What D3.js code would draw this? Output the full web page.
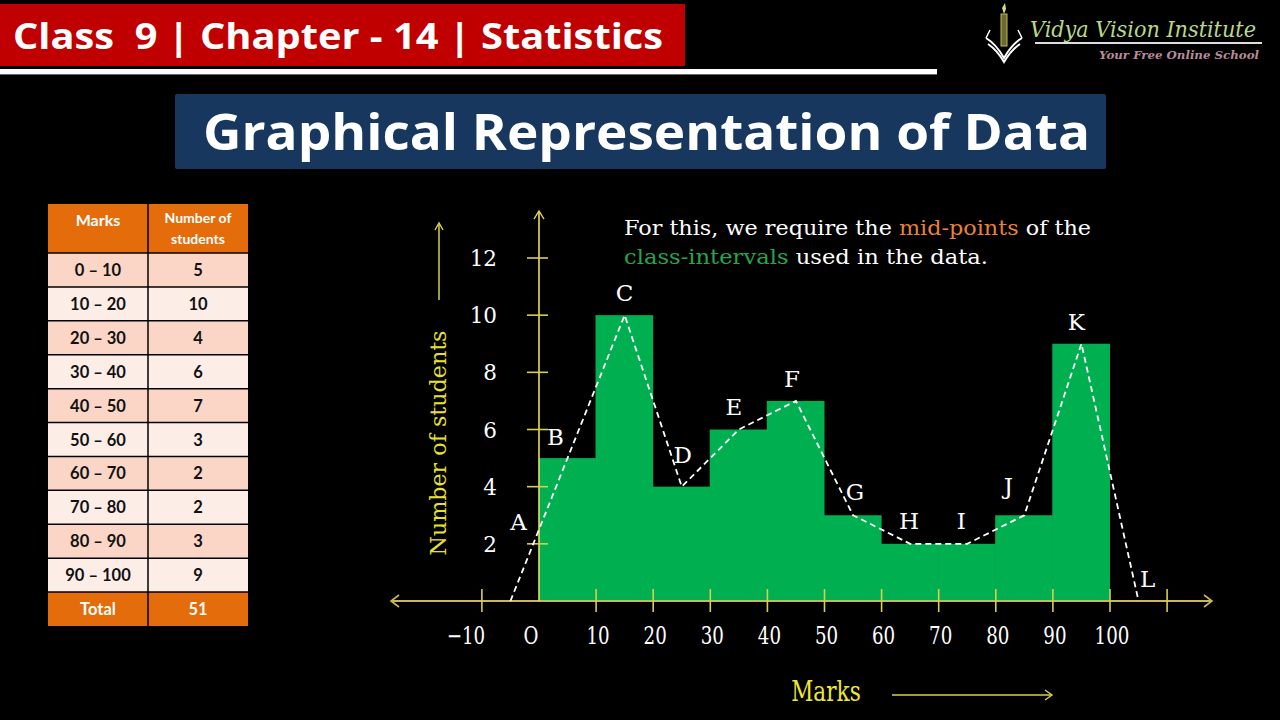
<!DOCTYPE html>
<html><head><meta charset="utf-8">
<script src="https://cdn.jsdelivr.net/npm/d3@7"></script>
<style>
html,body{margin:0;padding:0;background:#000;}
svg{display:block;}
</style></head>
<body>
<svg id="chart" width="1280" height="720"></svg>
<script>
// ---------------- data ----------------
const classLabels = ["0 – 10","10 – 20","20 – 30","30 – 40","40 – 50","50 – 60","60 – 70","70 – 80","80 – 90","90 – 100"];
const classLower = [0,10,20,30,40,50,60,70,80,90];
const classWidth = 10;
const counts = [5,10,4,6,7,3,2,2,3,9];
const totalLabel = "51";
const midpoints = [-5,5,15,25,35,45,55,65,75,85,95,105];
const polyValues = [0,5,10,4,6,7,3,2,2,3,9,0];
const pointNames = ["A","B","C","D","E","F","G","H","I","J","K","L"];
const yTicks = [2,4,6,8,10,12];
const xTicks = [-10,0,10,20,30,40,50,60,70,80,90,100,110];
const xTickLabels = ["−10","O","10","20","30","40","50","60","70","80","90","100"];

// ---------------- layout ----------------
const svg = d3.select("#chart");
svg.append("rect").attr("width",1280).attr("height",720).attr("fill","#000");

// header
svg.append("rect").attr("x",0).attr("y",4).attr("width",685).attr("height",62).attr("fill","#c00000");
svg.append("text").attr("x",13).attr("y",49)
  .attr("font-family","'Open Sans', sans-serif").attr("font-weight",700).attr("font-size",35)
  .attr("fill","#fff").attr("textLength",650).attr("lengthAdjust","spacingAndGlyphs")
  .attr("xml:space","preserve").style("white-space","pre")
  .text("Class  9 | Chapter - 14 | Statistics");
svg.append("rect").attr("x",0).attr("y",69).attr("width",937).attr("height",5).attr("fill","#fff");
svg.append("rect").attr("x",0).attr("y",74).attr("width",937).attr("height",1).attr("fill","#666");

// logo
const logo = svg.append("g");
logo.append("rect").attr("x",1001).attr("y",14).attr("width",6).attr("height",32).attr("fill","#6b6a2a").attr("stroke","#b8b860").attr("stroke-width",1);
logo.append("path").attr("d","M1004,14 L1002,8 L1005,3 L1006,9 Z").attr("fill","#d8d890");
logo.append("path").attr("d","M986,38 Q996,44 1004,58 Q1012,44 1022,38").attr("fill","none").attr("stroke","#fff").attr("stroke-width",2);
logo.append("path").attr("d","M988,44 Q997,50 1004,62 Q1011,50 1020,44").attr("fill","none").attr("stroke","#fff").attr("stroke-width",2);
logo.append("path").attr("d","M990,30 L986,38 M1018,30 L1022,38").attr("stroke","#fff").attr("stroke-width",1.5);
logo.append("text").attr("x",1030).attr("y",37)
  .attr("font-family","'DejaVu Serif', serif").attr("font-style","italic").attr("font-size",23)
  .attr("fill","#b9d88a").attr("textLength",226).attr("lengthAdjust","spacingAndGlyphs")
  .text("Vidya Vision Institute");
logo.append("rect").attr("x",1035).attr("y",42).attr("width",227).attr("height",2).attr("fill","#ddd");
logo.append("text").attr("x",1099).attr("y",59)
  .attr("font-family","'DejaVu Serif', serif").attr("font-style","italic").attr("font-weight",700).attr("font-size",11)
  .attr("fill","#b88a9a").attr("textLength",160).attr("lengthAdjust","spacingAndGlyphs")
  .text("Your Free Online School");

// title
svg.append("rect").attr("x",175).attr("y",94).attr("width",931).attr("height",75).attr("rx",2).attr("fill","#17375e");
svg.append("text").attr("x",203).attr("y",150)
  .attr("font-family","'Open Sans', sans-serif").attr("font-weight",700).attr("font-size",50)
  .attr("fill","#fff").attr("textLength",887).attr("lengthAdjust","spacingAndGlyphs")
  .text("Graphical Representation of Data");

// ---------------- table ----------------
const tbl = svg.append("g");
const tx0 = 48, tx1 = 148, tx2 = 248, ty0 = 204, headH = 49;
const rowY = d3.scaleBand().domain(d3.range(classLabels.length + 1)).range([ty0 + headH, 626]);
const tfont = "'Lato', 'Open Sans', sans-serif";
tbl.append("rect").attr("x",tx0).attr("y",ty0).attr("width",tx2-tx0).attr("height",headH).attr("fill","#e46c0a");
tbl.append("text").attr("x",(tx0+tx1)/2).attr("y",ty0+22).attr("text-anchor","middle")
  .attr("font-family",tfont).attr("font-weight",700).attr("font-size",16).attr("fill","#fff").text("Marks");
tbl.append("text").attr("x",(tx1+tx2)/2).attr("y",ty0+19).attr("text-anchor","middle")
  .attr("font-family",tfont).attr("font-weight",700).attr("font-size",14).attr("fill","#fff").text("Number of");
tbl.append("text").attr("x",(tx1+tx2)/2).attr("y",ty0+40).attr("text-anchor","middle")
  .attr("font-family",tfont).attr("font-weight",700).attr("font-size",14).attr("fill","#fff").text("students");
const rows = classLabels.map((c,i)=>({a:c,b:String(counts[i]),i}));
rows.push({a:"Total",b:totalLabel,i:classLabels.length,total:true});
const rg = tbl.selectAll("g.row").data(rows).enter().append("g");
rg.append("rect").attr("x",tx0).attr("y",d=>rowY(d.i)).attr("width",tx2-tx0).attr("height",rowY.bandwidth())
  .attr("fill",d=>d.total ? "#e46c0a" : (d.i%2===0 ? "#fbd6c6" : "#fdede7"));
rg.append("text").attr("x",(tx0+tx1)/2).attr("y",d=>rowY(d.i)+rowY.bandwidth()/2+6).attr("text-anchor","middle")
  .attr("font-family",tfont).attr("font-weight",700).attr("font-size",16.5)
  .attr("fill",d=>d.total?"#fff":"#111").text(d=>d.a);
rg.append("text").attr("x",(tx1+tx2)/2).attr("y",d=>rowY(d.i)+rowY.bandwidth()/2+6).attr("text-anchor","middle")
  .attr("font-family",tfont).attr("font-weight",700).attr("font-size",16.5)
  .attr("fill",d=>d.total?"#fff":"#111").text(d=>d.b);
// borders
tbl.selectAll("line.h").data(d3.range(1, rows.length)).enter().append("line")
  .attr("x1",tx0).attr("x2",tx2).attr("y1",d=>rowY(d)).attr("y2",d=>rowY(d)).attr("stroke","#000").attr("stroke-width",1.5);
tbl.append("line").attr("x1",tx0).attr("x2",tx2).attr("y1",ty0+headH).attr("y2",ty0+headH).attr("stroke","#000").attr("stroke-width",1.5);
tbl.append("line").attr("x1",tx1).attr("x2",tx1).attr("y1",ty0).attr("y2",626).attr("stroke","#000").attr("stroke-width",1.5);

// ---------------- chart ----------------
const x = d3.scaleLinear().domain([0,100]).range([539,1110]);
const y = d3.scaleLinear().domain([0,12]).range([601,258]);
const axisCol = "#d8cf4e";
const serif = "'DejaVu Serif', serif";

// bars (slightly overlapped to avoid seams)
svg.append("g").selectAll("rect").data(counts).enter().append("rect")
  .attr("x",(d,i)=>x(classLower[i]) - (i>0 ? 0.6 : 0))
  .attr("y",d=>y(d))
  .attr("width",(d,i)=>x(classLower[i]+classWidth)-x(classLower[i]) + (i>0 ? 0.6 : 0))
  .attr("height",d=>y(0)-y(d))
  .attr("fill","#00b050");

// x axis line with arrows
const y0 = y(0);
svg.append("line").attr("x1",391).attr("x2",1212).attr("y1",y0).attr("y2",y0).attr("stroke","#c9b85a").attr("stroke-width",2);
svg.append("path").attr("d",`M399,${y0-6} L391,${y0} L399,${y0+6}`).attr("fill","none").attr("stroke","#c9b85a").attr("stroke-width",1.6);
svg.append("path").attr("d",`M1204,${y0-6} L1212,${y0} L1204,${y0+6}`).attr("fill","none").attr("stroke","#c9b85a").attr("stroke-width",1.6);
svg.append("g").selectAll("line").data(xTicks.filter(v=>v!==0)).enter().append("line")
  .attr("x1",d=>x(d)).attr("x2",d=>x(d)).attr("y1",y0-12).attr("y2",y0+11)
  .attr("stroke",axisCol).attr("stroke-width",1.6);
const xlabX = (i)=> x(xTicks[i]) + (i===0 ? -16 : i===1 ? -8 : 2);
svg.append("g").selectAll("text").data(xTickLabels).enter().append("text")
  .attr("x",(d,i)=>xlabX(i))
  .attr("y",644).attr("text-anchor","middle")
  .attr("font-family",serif).attr("font-size",24).attr("fill","#fff")
  .attr("transform",(d,i)=>{const cx = xlabX(i); return `translate(${cx},0) scale(0.76,1) translate(${-cx},0)`;})
  .text(d=>d);

// y axis
const xa = x(0);
svg.append("line").attr("x1",xa).attr("x2",xa).attr("y1",y0).attr("y2",211).attr("stroke","#e8e060").attr("stroke-width",1.6);
svg.append("path").attr("d",`M${xa-5},219 L${xa},211 L${xa+5},219`).attr("fill","none").attr("stroke","#e8e060").attr("stroke-width",1.4);
svg.append("g").selectAll("line").data(yTicks).enter().append("line")
  .attr("x1",xa-12).attr("x2",xa+9).attr("y1",d=>y(d)).attr("y2",d=>y(d))
  .attr("stroke",axisCol).attr("stroke-width",1.6);
svg.append("g").selectAll("text").data(yTicks).enter().append("text")
  .attr("x",xa-42).attr("y",d=>y(d)+8).attr("text-anchor","end")
  .attr("font-family",serif).attr("font-size",21.5).attr("fill","#fff").text(d=>d);

// y axis title + arrow
svg.append("text").attr("transform","translate(446,443) rotate(-90)").attr("text-anchor","middle")
  .attr("font-family",serif).attr("font-size",22).attr("fill","#e8e030")
  .attr("textLength",225).attr("lengthAdjust","spacingAndGlyphs").text("Number of students");
svg.append("line").attr("x1",439).attr("x2",439).attr("y1",300).attr("y2",223).attr("stroke","#d8cf4e").attr("stroke-width",1.5);
svg.append("path").attr("d","M435,230 L439,223 L443,230").attr("fill","none").attr("stroke","#d8cf4e").attr("stroke-width",1.4);

// x axis title + arrow
svg.append("text").attr("x",826).attr("y",701).attr("text-anchor","middle")
  .attr("font-family",serif).attr("font-size",27).attr("fill","#f0e830")
  .attr("transform","translate(826,0) scale(0.8,1) translate(-826,0)").text("Marks");
svg.append("line").attr("x1",892).attr("x2",1051).attr("y1",695).attr("y2",695).attr("stroke","#d8cf4e").attr("stroke-width",1.5);
svg.append("path").attr("d","M1045,690 L1052,695 L1045,700").attr("fill","none").attr("stroke","#d8cf4e").attr("stroke-width",1.4);

// frequency polygon
const poly = midpoints.map((m,i)=>[m,polyValues[i]]);
svg.append("path").datum(poly)
  .attr("d",d3.line().x(d=>x(d[0])).y(d=>y(d[1])))
  .attr("fill","none").attr("stroke","#fff").attr("stroke-width",1.8).attr("stroke-dasharray","6,4");

// point labels (offsets in px from each point)
const labelOffsets = [[8,-80],[-12,-22],[0,-23],[1,-33],[-5,-24],[-4,-23],[2,-24],[-1,-24],[-6,-24],[-16,-30],[-5,-23],[9,-23]];
svg.append("g").selectAll("text").data(pointNames).enter().append("text")
  .attr("x",(d,i)=>x(midpoints[i])+labelOffsets[i][0])
  .attr("y",(d,i)=>y(polyValues[i])+labelOffsets[i][1]+9)
  .attr("text-anchor","middle")
  .attr("font-family",serif).attr("font-size",23).attr("fill","#fff").text(d=>d);

// explanation text
const t1 = svg.append("text").attr("x",624).attr("y",235).attr("font-family",serif).attr("font-size",19.5).attr("fill","#fff")
  .attr("textLength",467).attr("lengthAdjust","spacingAndGlyphs");
t1.append("tspan").text("For this, we require the ");
t1.append("tspan").attr("fill","#e8823a").text("mid-points");
t1.append("tspan").text(" of the");
const t2 = svg.append("text").attr("x",624).attr("y",264).attr("font-family",serif).attr("font-size",19.5).attr("fill","#fff")
  .attr("textLength",364).attr("lengthAdjust","spacingAndGlyphs");
t2.append("tspan").attr("fill","#22a64e").text("class-intervals");
t2.append("tspan").text(" used in the data.");
</script>
</body></html>
